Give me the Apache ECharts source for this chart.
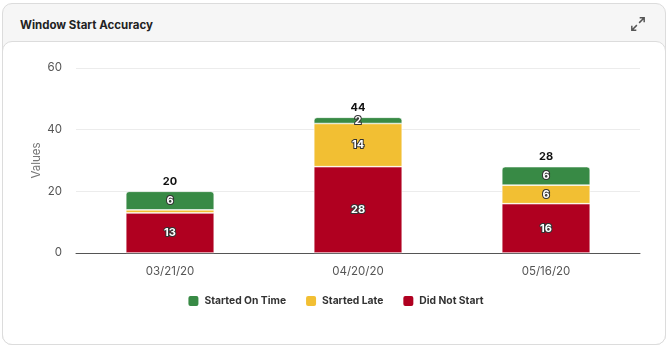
<!DOCTYPE html>
<html>
<head>
<meta charset="utf-8">
<script src="https://cdn.jsdelivr.net/npm/echarts@6/dist/echarts.min.js"></script>
<style>
  html, body { margin: 0; padding: 0; background: #fff; width: 670px; height: 352px; overflow: hidden; font-family: Inter, "Noto Sans", sans-serif; }
  .card { position: absolute; left: 2px; top: 3px; width: 662px; height: 340px; border: 1px solid #dcdcdc; border-radius: 10px; background: #f6f6f6; }
  .card .title { position: absolute; left: 17px; top: 14px; font-size: 11.5px; font-weight: 700; color: #222; }
  .card .expand { position: absolute; right: 18px; top: 11px; width: 18px; height: 18px; }
  .panel { position: absolute; left: -1px; right: -1px; top: 37px; bottom: -1px; border: 1px solid #dcdcdc; border-radius: 10px; background: #fff; }
  #chart { position: absolute; left: 0; top: 0; width: 670px; height: 352px; }
</style>
</head>
<body>
<div class="card">
  <div class="title">Window Start Accuracy</div>
  <svg class="expand" viewBox="0 0 16 16" fill="none" stroke="#555" stroke-width="1.3">
    <path d="M9.5 2.5h4v4M13.5 2.5l-4.5 4.5M6.5 13.5h-4v-4M2.5 13.5l4.5-4.5"/>
  </svg>
  <div class="panel"></div>
</div>
<div id="chart"></div>
<script>
// chart data
const dates = ['03/21/20', '04/20/20', '05/16/20'];
const onTime = [6, 2, 6];
const late = [1, 14, 6];
const notStarted = [13, 28, 16];
const totals = dates.map((d, i) => onTime[i] + late[i] + notStarted[i]);

const innerLabel = {
    show: true,
    position: 'inside',
    color: '#fff',
    fontSize: 11,
    fontWeight: 'bold',
    textBorderColor: '#333',
    textBorderWidth: 2,
    formatter: (p) => p.value < 2 ? '' : p.value
};

const chart = echarts.init(document.getElementById('chart'));
chart.setOption({
    animation: false,
    textStyle: { fontFamily: 'Inter, "Noto Sans", sans-serif' },
    grid: { left: 76, right: 30, top: 68, bottom: 99 },
    legend: {
        data: ['Started On Time', 'Started Late', 'Did Not Start'],
        bottom: 39,
        left: 'center',
        itemWidth: 12,
        itemHeight: 12,
        itemGap: 18,
        icon: 'roundRect',
        textStyle: { fontSize: 10.3, fontWeight: 'bold', color: '#333' }
    },
    xAxis: {
        type: 'category',
        data: dates,
        axisLine: { lineStyle: { color: '#555' } },
        axisTick: { show: false },
        axisLabel: { color: '#555', fontSize: 11.5, margin: 13 }
    },
    yAxis: {
        type: 'value',
        min: 0,
        max: 60,
        interval: 20,
        name: 'Values',
        nameLocation: 'middle',
        nameGap: 33,
        nameMoveOverlap: false,
        nameTextStyle: { color: '#777', fontSize: 11.5 },
        axisLabel: { color: '#555', fontSize: 11.5, margin: 14 },
        splitLine: { lineStyle: { color: '#ececec' } }
    },
    series: [
        {
            name: 'Did Not Start',
            type: 'bar',
            stack: 'total',
            barWidth: '47%',
            data: notStarted,
            itemStyle: { color: '#b00020', borderColor: '#fff', borderWidth: 0.6 },
            label: innerLabel
        },
        {
            name: 'Started Late',
            type: 'bar',
            stack: 'total',
            data: late,
            itemStyle: { color: '#f2bf33', borderColor: '#fff', borderWidth: 0.6 },
            label: innerLabel
        },
        {
            name: 'Started On Time',
            type: 'bar',
            stack: 'total',
            data: onTime,
            itemStyle: { color: '#388a45', borderColor: '#fff', borderWidth: 0.6, borderRadius: [3, 3, 0, 0] },
            label: innerLabel
        },
        {
            name: 'Total',
            type: 'bar',
            stack: 'total',
            data: dates.map(() => 0),
            itemStyle: { color: 'transparent' },
            label: {
                show: true,
                position: 'top',
                distance: 4,
                color: '#111',
                fontSize: 11,
                fontWeight: 'bold',
                formatter: (p) => totals[p.dataIndex]
            }
        }
    ]
});
</script>
</body>
</html>
